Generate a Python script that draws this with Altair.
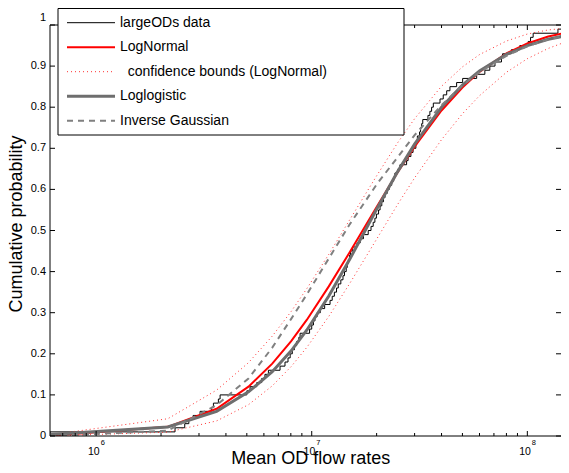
import altair as alt
import pandas as pd

DECADE = 215.6          # pixels per decade on the x axis
W, H = 511, 411
XMIN = 6.11e5
XMAX = XMIN * 10 ** (W / DECADE)
FONT = "Liberation Sans"

# fitted-curve sample points (flow rate) and CDF values
x_grid = [6.11e5, 2.15e6, 3.62e6, 5.09e6, 6.56e6, 8.03e6, 9.5e6, 1.2e7, 1.5e7, 2.0e7,
          2.5e7, 3.0e7, 4.0e7, 5.0e7, 6.0e7, 8.0e7, 1.0e8, 1.25e8, 1.561e8]
lognormal = [0.0006, 0.0223, 0.0663, 0.120, 0.176, 0.231, 0.283, 0.364, 0.447, 0.557,
             0.641, 0.704, 0.792, 0.848, 0.886, 0.931, 0.955, 0.972, 0.983]
ci_upper = [0.003, 0.042, 0.1116, 0.1785, 0.243, 0.303, 0.359, 0.442, 0.526, 0.633,
            0.713, 0.772, 0.851, 0.898, 0.928, 0.961, 0.978, 0.988, 0.993]
ci_lower = [0.0001, 0.0094, 0.0367, 0.0762, 0.122, 0.169, 0.216, 0.291, 0.371, 0.479,
            0.563, 0.628, 0.721, 0.784, 0.828, 0.885, 0.918, 0.943, 0.962]
loglogistic = [0.0034, 0.022, 0.060, 0.1075, 0.1563, 0.2072, 0.2580, 0.3405, 0.430, 0.5516,
               0.6427, 0.7101, 0.7998, 0.8537, 0.8883, 0.9284, 0.950, 0.9652, 0.9758]
inv_gauss = [0.0, 0.013, 0.075, 0.140, 0.215, 0.285, 0.345, 0.432, 0.515, 0.612,
             0.678, 0.732, 0.805, 0.853, 0.885, 0.925, 0.948, 0.965, 0.976]

# largeODs sample (log10 of mean OD flow rate), read from the staircase
od_log10 = [5.786, 6.366, 6.411, 6.430, 6.450, 6.482, 6.536, 6.544, 6.567, 6.575,
            6.699, 6.714, 6.745, 6.768, 6.783, 6.799, 6.853, 6.876, 6.890, 6.900,
            6.910, 6.920, 6.930, 6.940, 6.946, 6.990, 7.000, 7.008, 7.015, 7.025,
            7.040, 7.060, 7.085, 7.095, 7.105, 7.115, 7.123, 7.135, 7.145, 7.152,
            7.160, 7.165, 7.170, 7.175, 7.180, 7.190, 7.210, 7.225, 7.240, 7.262,
            7.275, 7.285, 7.293, 7.300, 7.310, 7.317, 7.325, 7.333, 7.340, 7.350,
            7.360, 7.371, 7.380, 7.386, 7.400, 7.409, 7.440, 7.447, 7.460, 7.470,
            7.483, 7.487, 7.490, 7.500, 7.505, 7.510, 7.515, 7.539, 7.548, 7.556,
            7.564, 7.595, 7.610, 7.626, 7.641, 7.672, 7.700, 7.765, 7.803, 7.826,
            7.850, 7.880, 7.885, 7.926, 7.965, 8.004, 8.015, 8.027, 8.142, 8.193]

x_major = [1e6, 1e7, 1e8]
x_major_exp = ["6", "7", "8"]
x_minor = [7e5, 8e5, 9e5, 2e6, 3e6, 4e6, 5e6, 6e6, 7e6, 8e6, 9e6,
           2e7, 3e7, 4e7, 5e7, 6e7, 7e7, 8e7, 9e7]
y_ticks = [0, 0.1, 0.2, 0.3, 0.4, 0.5, 0.6, 0.7, 0.8, 0.9, 1.0]
y_tick_labels = ["0", "0.1", "0.2", "0.3", "0.4", "0.5", "0.6", "0.7", "0.8", "0.9", "1"]

legend_labels = ["largeODs data", "LogNormal", "confidence bounds (LogNormal)",
                 "Loglogistic", "Inverse Gaussian"]

n = len(od_log10)
ecdf = pd.DataFrame({
    "x": [10 ** od_log10[0]] + [10 ** v for v in od_log10],
    "p": [0.0] + [(i + 1) / n for i in range(n)],
})
curves = pd.DataFrame({"x": x_grid, "ln": lognormal, "up": ci_upper, "lo": ci_lower,
                       "ll": loglogistic, "ig": inv_gauss})
major_df = pd.DataFrame({"v": x_major, "e": x_major_exp})
minor_df = pd.DataFrame({"v": x_minor})
ytick_df = pd.DataFrame({"v": y_ticks, "t": y_tick_labels})
ylab_df = ytick_df.iloc[:-1]
ylab_top = ytick_df.iloc[-1:]
one = pd.DataFrame({"a": [0]})

xs = alt.Scale(type="log", domain=[XMIN, XMAX], nice=False)
ys = alt.Scale(domain=[0, 1], nice=False)


def X(f="x"):
    return alt.X(f"{f}:Q", scale=xs, axis=None)


def Y(f):
    return alt.Y(f"{f}:Q", scale=ys, axis=None)


layers = []

# data and fitted curves
layers.append(alt.Chart(ecdf).mark_line(interpolate="step-after", color="black",
                                        strokeWidth=1, clip=True).encode(x=X(), y=Y("p")))
layers.append(alt.Chart(curves).mark_line(color="#ff0000", strokeWidth=2, clip=True)
              .encode(x=X(), y=Y("ln")))
for f in ["up", "lo"]:
    layers.append(alt.Chart(curves).mark_line(color="#ff3030", strokeWidth=1,
                                              strokeDash=[1, 3], clip=True)
                  .encode(x=X(), y=Y(f)))
layers.append(alt.Chart(curves).mark_line(color="#6e6e6e", strokeWidth=3, clip=True)
              .encode(x=X(), y=Y("ll")))
layers.append(alt.Chart(curves).mark_line(color="#808080", strokeWidth=2,
                                          strokeDash=[6, 5], clip=True)
              .encode(x=X(), y=Y("ig")))

# frame (left, bottom, top)
layers.append(alt.Chart(one).mark_rule(color="black", strokeWidth=1)
              .encode(x=alt.value(0), y=alt.value(0), y2=alt.value(H)))
layers.append(alt.Chart(one).mark_rule(color="black", strokeWidth=1)
              .encode(x=alt.value(0), x2=alt.value(W), y=alt.value(H)))
layers.append(alt.Chart(one).mark_rule(color="black", strokeWidth=1)
              .encode(x=alt.value(0), x2=alt.value(W), y=alt.value(0)))

# inward ticks
for df, ln in [(major_df, 5), (minor_df, 3)]:
    layers.append(alt.Chart(df).mark_rule(color="black", strokeWidth=1)
                  .encode(x=X("v"), y=alt.value(H), y2=alt.value(H - ln)))
    layers.append(alt.Chart(df).mark_rule(color="black", strokeWidth=1)
                  .encode(x=X("v"), y=alt.value(0), y2=alt.value(ln)))
layers.append(alt.Chart(ytick_df).mark_rule(color="black", strokeWidth=1)
              .encode(y=Y("v"), x=alt.value(0), x2=alt.value(5)))
layers.append(alt.Chart(ytick_df).mark_rule(color="black", strokeWidth=1)
              .encode(y=Y("v"), x=alt.value(W), x2=alt.value(W - 5)))

# tick labels
layers.append(alt.Chart(ylab_df).mark_text(align="right", baseline="middle", font=FONT,
                                           fontSize=11, color="black")
              .encode(y=Y("v"), x=alt.value(-4), text="t:N"))
layers.append(alt.Chart(ylab_top).mark_text(align="right", baseline="middle", font=FONT,
                                            fontSize=11, color="black", dy=-7)
              .encode(y=Y("v"), x=alt.value(-4), text="t:N"))
layers.append(alt.Chart(major_df).mark_text(align="right", baseline="middle", font=FONT,
                                            fontSize=10.5, dx=3.5, color="black")
              .encode(x=X("v"), y=alt.value(426.5), text=alt.value("10")))
layers.append(alt.Chart(major_df).mark_text(align="left", baseline="middle", font=FONT,
                                            fontSize=7.5, dx=4.5, color="black")
              .encode(x=X("v"), y=alt.value(417.5), text="e:N"))

# axis titles
layers.append(alt.Chart(one).mark_text(align="center", baseline="alphabetic", font=FONT,
                                       fontSize=18, color="black")
              .encode(x=alt.value(260.8), y=alt.value(438.5),
                      text=alt.value("Mean OD flow rates")))
layers.append(alt.Chart(one).mark_text(align="center", baseline="middle", font=FONT,
                                       fontSize=18, angle=270, color="black")
              .encode(x=alt.value(-33), y=alt.value(199),
                      text=alt.value("Cumulative probability")))

# legend box
layers.append(alt.Chart(one).mark_rect(fill="white", stroke="black", strokeWidth=1)
              .encode(x=alt.value(8), x2=alt.value(354), y=alt.value(-16.5), y2=alt.value(110)))
styles = [
    dict(color="black", strokeWidth=1),
    dict(color="#ff0000", strokeWidth=2),
    dict(color="#ff3030", strokeWidth=1, strokeDash=[1, 3]),
    dict(color="#6e6e6e", strokeWidth=3),
    dict(color="#808080", strokeWidth=2, strokeDash=[6, 5]),
]
for i, (lab, st) in enumerate(zip(legend_labels, styles)):
    yy = -2.3 + 24.5 * i
    layers.append(alt.Chart(one).mark_rule(**st)
                  .encode(x=alt.value(17), x2=alt.value(65), y=alt.value(yy)))
    tx = 77.7 if i == 2 else 70
    layers.append(alt.Chart(one).mark_text(align="left", baseline="middle", font=FONT,
                                           fontSize=14, color="black")
                  .encode(x=alt.value(tx), y=alt.value(yy), text=alt.value(lab)))

chart = alt.layer(*layers).properties(
    width=W, height=H,
    padding={"left": 42, "top": 17, "right": 0, "bottom": 29},
    autosize=alt.AutoSizeParams(type="none"),
).configure_view(stroke=None)

chart.save("out.html", embed_options={"renderer": "svg", "actions": False})
